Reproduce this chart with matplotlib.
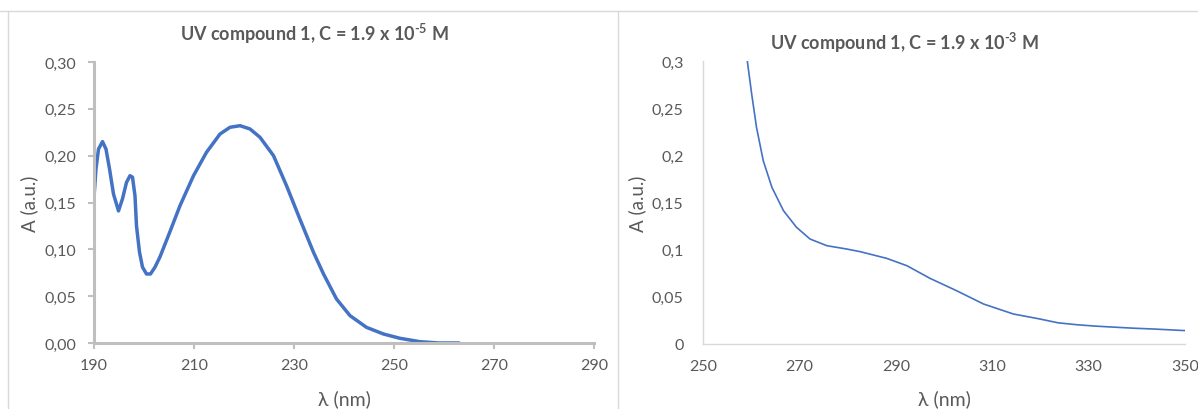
import matplotlib
matplotlib.use("Agg")
import matplotlib.pyplot as plt
from matplotlib.lines import Line2D

plt.rcParams['font.family'] = ['Lato', 'DejaVu Sans']
plt.rcParams['mathtext.fontset'] = 'custom'
plt.rcParams['mathtext.rm'] = 'Lato:bold'
plt.rcParams['mathtext.bf'] = 'Lato:bold'

# ---- data ----
wl_dilute = [190.0, 190.4, 190.9, 191.7, 192.4, 193.1, 193.9, 194.9, 195.7, 196.5, 197.2, 197.7,
             198.2, 198.5, 199.1, 199.7, 200.5, 201.3, 202.2, 203.2, 205.2, 207.2, 209.9,
             212.5, 215.2, 217.2, 219.2, 221.2, 223.2, 225.9, 228.5, 231.2, 233.9, 235.9,
             238.5, 241.2, 244.5, 247.9, 251.2, 255.2, 259.0, 263.0]
abs_dilute = [0.1555, 0.186, 0.207, 0.215, 0.207, 0.186, 0.159, 0.141, 0.154, 0.1715, 0.1786, 0.177,
              0.157, 0.125, 0.097, 0.081, 0.0737, 0.0737, 0.081, 0.092, 0.119, 0.1466, 0.1786,
              0.2036, 0.2231, 0.2303, 0.232, 0.2285, 0.2196, 0.200, 0.168, 0.132, 0.0968, 0.0737,
              0.047, 0.0292, 0.0167, 0.0096, 0.005, 0.0014, 0.0, 0.0]

wl_conc = [259.2, 260.1, 261.1, 262.5, 264.3, 266.7, 269.4, 272.2, 275.7, 279.8, 282.6, 288.1,
           292.3, 297.1, 302.6, 308.2, 314.4, 319.9, 323.6, 327.6, 331.6, 335.5, 339.5, 343.4,
           350.0]
abs_conc = [0.2997, 0.265, 0.2297, 0.1943, 0.166, 0.1413, 0.1237, 0.1113, 0.1042, 0.1007, 0.0979,
            0.0908, 0.083, 0.0696, 0.0565, 0.0424, 0.0318, 0.0265, 0.0225, 0.0204, 0.0189, 0.0178,
            0.0167, 0.0159, 0.0142]

left_xticks = [190, 210, 230, 250, 270, 290]
left_yticks = [0.00, 0.05, 0.10, 0.15, 0.20, 0.25, 0.30]
left_yticklabels = ['0,00', '0,05', '0,10', '0,15', '0,20', '0,25', '0,30']
right_xticks = [250, 270, 290, 310, 330, 350]
right_yticks = [0, 0.05, 0.1, 0.15, 0.2, 0.25, 0.3]
right_yticklabels = ['0', '0,05', '0,1', '0,15', '0,2', '0,25', '0,3']

title_left = r"UV compound 1, C = 1.9 x 10$^{\text{-5}}$ M"
title_right = r"UV compound 1, C = 1.9 x 10$^{\text{-3}}$ M"

W, H = 1198, 410
fig = plt.figure(figsize=(W / 100, H / 100), dpi=100)
fig.patch.set_facecolor('white')

BLUE = '#4472C4'
TXT = '#595959'

def fx(px):
    return px / W

def fy(py):
    return 1 - py / H

# panel borders
border = '#D9D9D9'
fig.add_artist(Line2D([fx(0), fx(W)], [fy(12), fy(12)], color=border, lw=1))
fig.add_artist(Line2D([fx(8), fx(8)], [fy(12), fy(H)], color=border, lw=1))
fig.add_artist(Line2D([fx(618), fx(618)], [fy(12), fy(H)], color=border, lw=1))

# ---- left axes ----
axL = fig.add_axes([fx(94), fy(344), fx(594 - 94), (344 - 63) / H])
axL.plot(wl_dilute, abs_dilute, color=BLUE, lw=2.5, solid_joinstyle='round',
         solid_capstyle='round')
axL.set_xlim(190, 290)
axL.set_ylim(0, 0.30)
axL.set_xticks(left_xticks)
axL.set_yticks(left_yticks)
axL.set_yticklabels(left_yticklabels)
for s in ['top', 'right']:
    axL.spines[s].set_visible(False)
for s in ['left', 'bottom']:
    axL.spines[s].set_color('#BFBFBF')
    axL.spines[s].set_linewidth(2.2)
axL.tick_params(axis='both', colors='#BFBFBF', length=4, width=1.5, labelcolor=TXT,
                labelsize=11.5)
axL.tick_params(axis='x', pad=7)
axL.tick_params(axis='y', pad=9)
axL.set_xlabel('λ (nm)', color=TXT, fontsize=14)
axL.set_ylabel('A (a.u.)', color=TXT, fontsize=13.5)
axL.xaxis.set_label_coords(0.5, -0.165)
axL.yaxis.set_label_coords(-0.112, 0.5)
fig.text(fx(314), fy(34), title_left, ha='center', va='center', fontsize=13,
         fontweight='bold', color=TXT)

# ---- right axes ----
axR = fig.add_axes([fx(703), fy(345), fx(1185 - 703), (345 - 62) / H])
axR.plot(wl_conc, abs_conc, color=BLUE, lw=1.2, solid_joinstyle='round')
axR.set_xlim(250, 350)
axR.set_ylim(0, 0.3)
axR.set_xticks(right_xticks)
axR.set_yticks(right_yticks)
axR.set_yticklabels(right_yticklabels)
for s in ['top', 'right']:
    axR.spines[s].set_visible(False)
for s in ['left', 'bottom']:
    axR.spines[s].set_color('#D9D9D9')
    axR.spines[s].set_linewidth(1.0)
axR.tick_params(axis='both', length=0, labelcolor=TXT, labelsize=11.5)
axR.tick_params(axis='x', pad=11)
axR.tick_params(axis='y', pad=14)
axR.set_xlabel('λ (nm)', color=TXT, fontsize=14)
axR.set_ylabel('A (a.u.)', color=TXT, fontsize=13.5)
axR.xaxis.set_label_coords(0.5, -0.16)
axR.yaxis.set_label_coords(-0.118, 0.5)
fig.text(fx(904), fy(43), title_right, ha='center', va='center', fontsize=13,
         fontweight='bold', color=TXT)

fig.savefig('out.png', dpi=100, facecolor='white')
